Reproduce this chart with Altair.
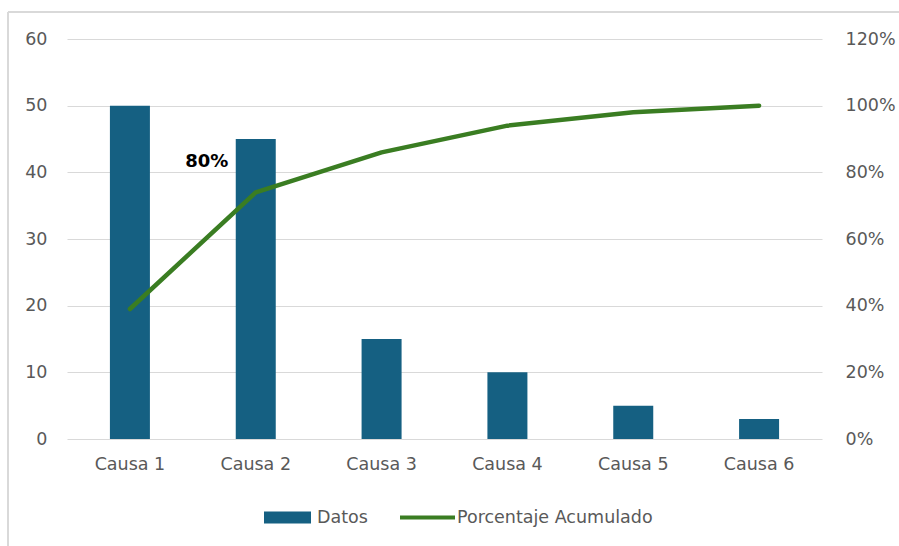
import altair as alt
import pandas as pd

causas = ["Causa 1", "Causa 2", "Causa 3", "Causa 4", "Causa 5", "Causa 6"]
datos = [50, 45, 15, 10, 5, 3]
acumulado = [0.39, 0.74, 0.86, 0.94, 0.98, 1.00]
series = ["Datos", "Porcentaje Acumulado"]

anot_texto = ["80%"]
anot_causa = ["Causa 2"]
anot_valor = [0.83]

df = pd.DataFrame({"causa": causas, "datos": datos, "acumulado": acumulado,
                   "serie_barra": [series[0]] * len(causas),
                   "serie_linea": [series[1]] * len(causas)})
df_anot = pd.DataFrame({"causa": anot_causa, "acumulado": anot_valor, "texto": anot_texto})

BLUE = "#156082"
GREEN = "#3a7d22"
GRAY_TXT = "#595959"
GRID = "#d9d9d9"
FONT = "DejaVu Sans"
FS = 17.5

xenc = alt.X("causa:N", sort=causas, scale=alt.Scale(paddingInner=0, paddingOuter=0),
             axis=alt.Axis(title=None, labelAngle=0, ticks=False, tickSize=0, domain=False, grid=False,
                           labelPadding=16, labelFontSize=FS, labelColor=GRAY_TXT, labelFont=FONT))

legend_bar = alt.Legend(
    title=None, orient="none", direction="horizontal", legendX=197, legendY=455,
    labelFontSize=FS, labelColor=GRAY_TXT, labelFont=FONT, symbolSize=2209,
    symbolType="M-1,-0.255L1,-0.255L1,0.255L-1,0.255Z", symbolStrokeWidth=0,
    symbolOpacity=1, labelOffset=6, labelLimit=400)
legend_line = alt.Legend(
    title=None, orient="none", direction="horizontal", legendX=331, legendY=449,
    labelFontSize=FS, labelColor=GRAY_TXT, labelFont=FONT, symbolSize=3025,
    symbolType="stroke", symbolStrokeWidth=4, symbolOpacity=1, labelOffset=0, labelLimit=400)

bars = alt.Chart(df).mark_bar(size=40).encode(
    x=xenc,
    y=alt.Y("datos:Q", scale=alt.Scale(domain=[0, 60]),
            axis=alt.Axis(title=None, values=[0, 10, 20, 30, 40, 50, 60], ticks=False, tickSize=0,
                          domain=False, gridColor=GRID, gridWidth=1, labelPadding=20,
                          labelFontSize=FS, labelColor=GRAY_TXT, labelFont=FONT)),
    fill=alt.Fill("serie_barra:N", scale=alt.Scale(domain=[series[0]], range=[BLUE]), legend=legend_bar),
)

yright = alt.Y("acumulado:Q", scale=alt.Scale(domain=[0, 1.2]),
               axis=alt.Axis(title=None, orient="right", format="%", values=[0, 0.2, 0.4, 0.6, 0.8, 1.0, 1.2],
                             ticks=False, tickSize=0, domain=False, grid=False, labelPadding=23,
                             labelFontSize=FS, labelColor=GRAY_TXT, labelFont=FONT))

line = alt.Chart(df).mark_line(strokeWidth=4.5, strokeCap="round", strokeJoin="round").encode(
    x=xenc,
    y=yright,
    stroke=alt.Stroke("serie_linea:N", scale=alt.Scale(domain=[series[1]], range=[GREEN]), legend=legend_line),
)

anot_halo = alt.Chart(df_anot).mark_text(
    fontSize=18, fontWeight="bold", font=FONT, dx=-49, stroke="white", strokeWidth=9, color="white"
).encode(x=xenc, y=yright, text="texto:N")
anot = alt.Chart(df_anot).mark_text(
    fontSize=18, fontWeight="bold", font=FONT, dx=-49, color="black"
).encode(x=xenc, y=yright, text="texto:N")

border_v = alt.Chart(df).mark_rule(color=GRID, strokeWidth=1.5).encode(
    x=alt.value(-59), y=alt.value(-27), y2=alt.value(520))
border_h = alt.Chart(df).mark_rule(color=GRID, strokeWidth=1.5).encode(
    x=alt.value(-59), x2=alt.value(900), y=alt.value(-27))

right_layer = alt.layer(line, anot_halo, anot)

chart = alt.layer(border_v, border_h, bars, right_layer).resolve_scale(
    y="independent", x="shared"
).properties(
    width=755, height=400,
    background="white",
    autosize=alt.AutoSizeParams(type="none"),
    padding={"left": 67, "top": 39, "right": 77, "bottom": 107},
).configure_view(strokeWidth=0, stroke="transparent").configure_axis(domain=False)

chart.save("out.html", embed_options={"renderer": "svg", "actions": False})
